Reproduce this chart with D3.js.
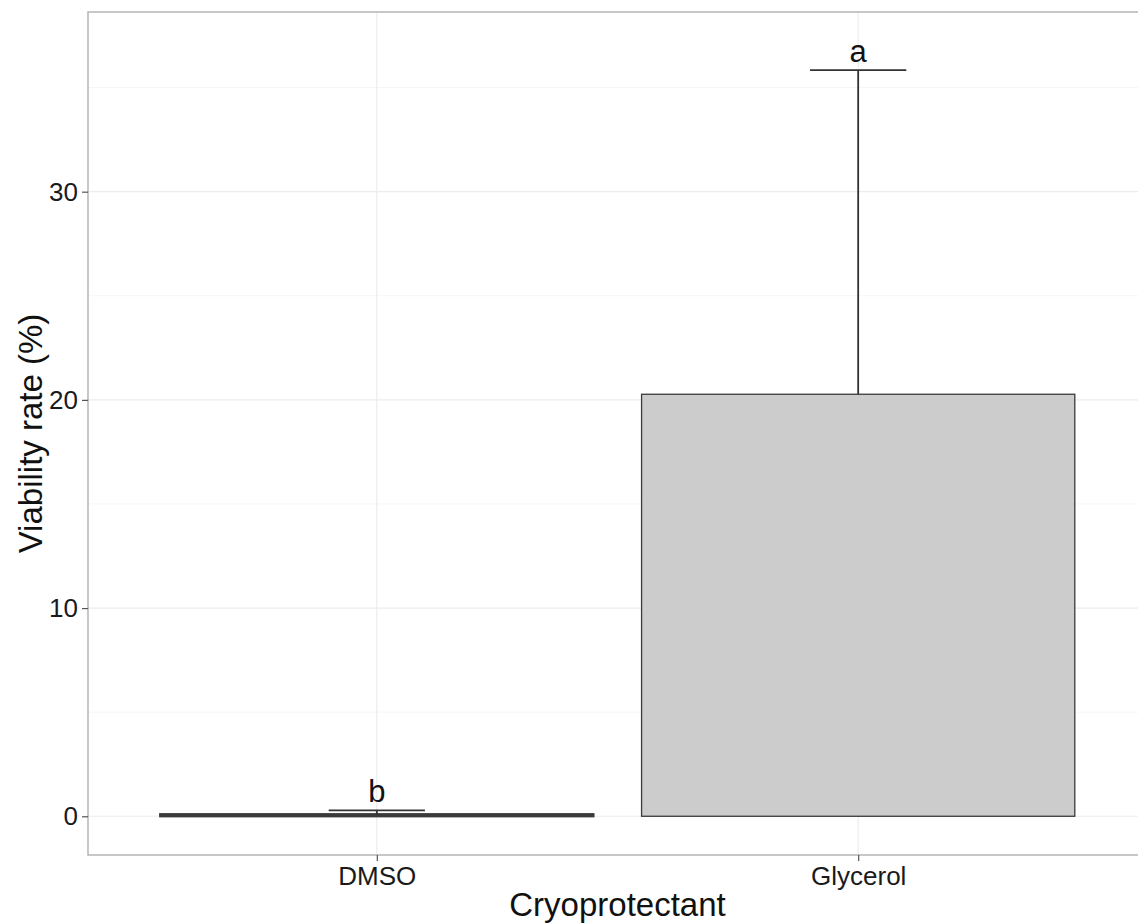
<!DOCTYPE html>
<html>
  <head>
    <meta charset="utf-8">
    <title>Viability rate by cryoprotectant</title>
    <script src="https://d3js.org/d3.v7.min.js"></script>
    <style>
      body { margin: 0; background: #ffffff; }
      svg text { font-family: "Liberation Sans", Arial, sans-serif; }
    </style>
  </head>
  <body>
    <svg width="1138" height="923"></svg>
    <script>
      // data
      var categories = ["DMSO", "Glycerol"];
      var means = [0.1, 20.27];
      var upper = [0.28, 35.84];
      var letters = ["b", "a"];
      var yTicks = [0, 10, 20, 30];
      var yMinor = [5, 15, 25, 35];

      var width = 1138, height = 923;
      var panel = { left: 88, right: 1147, top: 12, bottom: 855 };

      var svg = d3.select("svg");

      // discrete axis: 0.6 unit expansion on each side, like ggplot
      var n = categories.length;
      var step = (panel.right - panel.left) / (n - 1 + 1.2);
      var x = d3.scalePoint()
        .domain(categories)
        .range([panel.left + 0.6 * step, panel.right - 0.6 * step]);

      var y = d3.scaleLinear()
        .domain([-1.86, 38.63])
        .range([panel.bottom, panel.top]);

      var barW = 0.9 * step;
      var capW = 0.2 * step;

      // panel background + grid
      var grid = svg.append("g");
      grid.selectAll("line.minor")
        .data(yMinor)
        .enter().append("line")
          .attr("x1", panel.left).attr("x2", panel.right)
          .attr("y1", function (d) { return y(d); })
          .attr("y2", function (d) { return y(d); })
          .attr("stroke", "#f6f6f6").attr("stroke-width", 1);
      grid.selectAll("line.major")
        .data(yTicks)
        .enter().append("line")
          .attr("x1", panel.left).attr("x2", panel.right)
          .attr("y1", function (d) { return y(d); })
          .attr("y2", function (d) { return y(d); })
          .attr("stroke", "#ececec").attr("stroke-width", 1.2);
      grid.selectAll("line.vert")
        .data(categories)
        .enter().append("line")
          .attr("x1", function (d) { return x(d); })
          .attr("x2", function (d) { return x(d); })
          .attr("y1", panel.top).attr("y2", panel.bottom)
          .attr("stroke", "#ececec").attr("stroke-width", 1.2);

      // bars
      svg.selectAll("rect.bar")
        .data(categories)
        .enter().append("rect")
          .attr("x", function (d) { return x(d) - barW / 2; })
          .attr("width", barW)
          .attr("y", function (d, i) { return y(means[i]); })
          .attr("height", function (d, i) { return y(0) - y(means[i]); })
          .attr("fill", "#cccccc")
          .attr("stroke", "#3a3a3a")
          .attr("stroke-width", function (d, i) { return means[i] < 1 ? 2.2 : 1.3; });

      // error bars (upper only)
      var err = svg.append("g").attr("stroke", "#333333").attr("stroke-width", 1.8);
      err.selectAll("line.whisk")
        .data(categories)
        .enter().append("line")
          .attr("x1", function (d) { return x(d); })
          .attr("x2", function (d) { return x(d); })
          .attr("y1", function (d, i) { return y(means[i]); })
          .attr("y2", function (d, i) { return y(upper[i]); });
      err.selectAll("line.cap")
        .data(categories)
        .enter().append("line")
          .attr("x1", function (d) { return x(d) - capW / 2; })
          .attr("x2", function (d) { return x(d) + capW / 2; })
          .attr("y1", function (d, i) { return y(upper[i]); })
          .attr("y2", function (d, i) { return y(upper[i]); });

      // significance letters
      svg.selectAll("text.letter")
        .data(categories)
        .enter().append("text")
          .attr("x", function (d) { return x(d); })
          .attr("y", function (d, i) { return y(upper[i] + 0.4); })
          .attr("text-anchor", "middle")
          .attr("font-size", 31)
          .attr("fill", "#111111")
          .text(function (d, i) { return letters[i]; });

      // panel border
      svg.append("rect")
        .attr("x", panel.left).attr("y", panel.top)
        .attr("width", panel.right - panel.left)
        .attr("height", panel.bottom - panel.top)
        .attr("fill", "none")
        .attr("stroke", "#b5b5b5")
        .attr("stroke-width", 1.5);

      // axes
      var yAxis = svg.append("g")
        .attr("transform", "translate(" + panel.left + ",0)")
        .call(d3.axisLeft(y).tickValues(yTicks).tickSize(6).tickPadding(4));
      var xAxis = svg.append("g")
        .attr("transform", "translate(0," + panel.bottom + ")")
        .call(d3.axisBottom(x).tickSize(6).tickPadding(6));
      [yAxis, xAxis].forEach(function (g) {
        g.select(".domain").remove();
        g.selectAll(".tick line").attr("stroke", "#555555").attr("stroke-width", 1.2);
        g.selectAll(".tick text")
          .attr("fill", "#1a1a1a")
          .attr("font-size", 26)
          .attr("font-family", "Liberation Sans, Arial, sans-serif");
      });

      // axis titles
      svg.append("text")
        .attr("x", (panel.left + panel.right) / 2)
        .attr("y", 916)
        .attr("text-anchor", "middle")
        .attr("font-size", 33)
        .attr("fill", "#111111")
        .text("Cryoprotectant");
      svg.append("text")
        .attr("transform", "translate(42," + (panel.top + panel.bottom) / 2 + ") rotate(-90)")
        .attr("text-anchor", "middle")
        .attr("font-size", 33)
        .attr("fill", "#111111")
        .text("Viability rate (%)");
    </script>
  </body>
</html>
